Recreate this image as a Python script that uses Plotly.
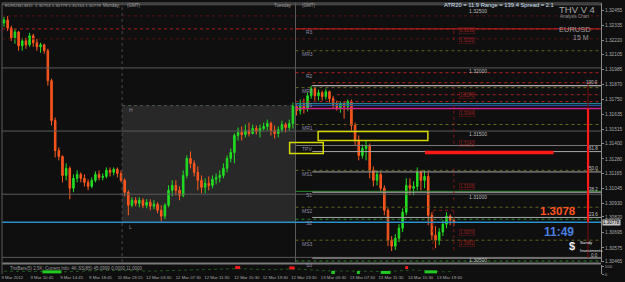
import plotly.graph_objects as go

# ---------------- data ----------------
opens = [1.32356,1.32380,1.32317,1.32238,1.32285,1.32175,1.32214,1.32183,1.32254,1.32199,
         1.32167,1.32183,1.32136,1.31899,1.31583,1.31346,1.31299,1.31149,1.31205,1.31047,
         1.31126,1.31157,1.31126,1.31094,1.31062,1.31110,1.31157,1.31133,1.31141,1.31189,
         1.31173,1.31197,1.31165,1.31110,1.31015,1.30913,1.30952,1.30928,1.30952,1.30913,
         1.30936,1.30905,1.30920,1.30873,1.30826,1.30913,1.31031,1.31070,1.31031,1.30991,
         1.31149,1.31283,1.31244,1.31173,1.31110,1.31055,1.31086,1.31070,1.31118,1.31133,
         1.31149,1.31205,1.31283,1.31331,1.31465,1.31489,1.31473,1.31504,1.31481,1.31520,
         1.31496,1.31520,1.31536,1.31560,1.31504,1.31481,1.31512,1.31552,1.31528,1.31560,
         1.31694,1.31662,1.31709,1.31678,1.31780,1.31836,1.31780,1.31804,1.31773,1.31812,
         1.31757,1.31709,1.31686,1.31717,1.31694,1.31733,1.31544,1.31425,1.31307,1.31362,
         1.31386,1.31189,1.31110,1.31157,1.31047,1.30873,1.30636,1.30589,1.30652,1.30731,
         1.30857,1.31070,1.31047,1.31062,1.31173,1.31110,1.31141,1.30834,1.30676,1.30636,
         1.30700,1.30763,1.30826,1.30794]
highs = [1.32404,1.32412,1.32333,1.32309,1.32293,1.32238,1.32238,1.32278,1.32270,1.32230,
         1.32199,1.32191,1.32151,1.31915,1.31607,1.31370,1.31307,1.31244,1.31220,1.31157,
         1.31189,1.31173,1.31157,1.31118,1.31133,1.31181,1.31189,1.31165,1.31212,1.31212,
         1.31212,1.31212,1.31189,1.31126,1.31031,1.30976,1.30976,1.30976,1.30968,1.30960,
         1.30960,1.30952,1.30936,1.30913,1.30928,1.31070,1.31110,1.31110,1.31062,1.31189,
         1.31307,1.31339,1.31268,1.31220,1.31149,1.31126,1.31141,1.31149,1.31165,1.31189,
         1.31244,1.31307,1.31362,1.31481,1.31528,1.31536,1.31552,1.31567,1.31552,1.31544,
         1.31552,1.31567,1.31591,1.31575,1.31544,1.31536,1.31583,1.31567,1.31591,1.31725,
         1.31717,1.31749,1.31757,1.31804,1.31859,1.31844,1.31828,1.31820,1.31836,1.31820,
         1.31780,1.31741,1.31733,1.31733,1.31749,1.31749,1.31567,1.31465,1.31394,1.31425,
         1.31402,1.31220,1.31189,1.31173,1.31070,1.30889,1.30668,1.30684,1.30763,1.30889,
         1.31126,1.31126,1.31102,1.31212,1.31189,1.31189,1.31173,1.30857,1.30747,1.30731,
         1.30794,1.30857,1.30842,1.30810]
lows = [1.32325,1.32293,1.32214,1.32191,1.32136,1.32136,1.32151,1.32167,1.32167,1.32136,
        1.32120,1.32112,1.31859,1.31544,1.31291,1.31268,1.31094,1.31110,1.30960,1.31015,
        1.31094,1.31094,1.31062,1.31031,1.31047,1.31094,1.31110,1.31110,1.31126,1.31141,
        1.31149,1.31133,1.31094,1.30984,1.30834,1.30897,1.30905,1.30897,1.30889,1.30889,
        1.30873,1.30881,1.30849,1.30786,1.30802,1.30897,1.30984,1.30991,1.30952,1.30976,
        1.31126,1.31205,1.31141,1.31031,1.31007,1.31007,1.31031,1.31047,1.31078,1.31094,
        1.31126,1.31173,1.31252,1.31244,1.31425,1.31425,1.31449,1.31457,1.31473,1.31473,
        1.31449,1.31504,1.31504,1.31465,1.31441,1.31449,1.31489,1.31489,1.31504,1.31520,
        1.31623,1.31631,1.31638,1.31654,1.31757,1.31741,1.31741,1.31741,1.31749,1.31725,
        1.31678,1.31662,1.31646,1.31599,1.31662,1.31504,1.31386,1.31268,1.31283,1.31268,
        1.31126,1.31062,1.31070,1.31015,1.30834,1.30589,1.30550,1.30558,1.30621,1.30700,
        1.30834,1.30991,1.30991,1.31031,1.31031,1.31047,1.30755,1.30636,1.30573,1.30597,
        1.30668,1.30731,1.30755,1.30747]
closes = [1.32380,1.32317,1.32238,1.32285,1.32175,1.32214,1.32183,1.32254,1.32199,1.32167,
          1.32183,1.32136,1.31899,1.31583,1.31346,1.31299,1.31149,1.31205,1.31047,1.31126,
          1.31157,1.31126,1.31094,1.31062,1.31110,1.31157,1.31133,1.31141,1.31189,1.31173,
          1.31197,1.31165,1.31110,1.31015,1.30913,1.30952,1.30928,1.30952,1.30913,1.30936,
          1.30905,1.30920,1.30873,1.30826,1.30913,1.31031,1.31070,1.31031,1.30991,1.31149,
          1.31283,1.31244,1.31173,1.31110,1.31055,1.31086,1.31070,1.31118,1.31133,1.31149,
          1.31205,1.31283,1.31331,1.31465,1.31489,1.31473,1.31504,1.31481,1.31520,1.31496,
          1.31520,1.31536,1.31560,1.31504,1.31481,1.31512,1.31552,1.31528,1.31560,1.31694,
          1.31662,1.31709,1.31678,1.31780,1.31836,1.31780,1.31804,1.31773,1.31812,1.31757,
          1.31709,1.31686,1.31717,1.31694,1.31733,1.31544,1.31425,1.31307,1.31362,1.31386,
          1.31189,1.31110,1.31157,1.31047,1.30873,1.30636,1.30589,1.30652,1.30731,1.30857,
          1.31070,1.31047,1.31062,1.31173,1.31110,1.31141,1.30834,1.30676,1.30636,1.30700,
          1.30763,1.30826,1.30794,1.30778]

time_labels = ["9 Mar 2012", "9 Mar 10:45", "9 Mar 14:45", "9 Mar 18:45", "11 Mar 23:15",
               "12 Mar 03:30", "12 Mar 07:30", "12 Mar 11:30", "12 Mar 15:30", "12 Mar 19:30",
               "12 Mar 23:30", "13 Mar 03:30", "13 Mar 07:30", "13 Mar 11:30", "13 Mar 15:30",
               "13 Mar 19:30"]
time_label_bar = [2.3, 10.4, 18.5, 26.4, 34.5, 42.3, 50.4, 58.2, 66.4, 74.2, 82.0, 90.1,
                  98.0, 105.8, 113.9, 121.8]

price_ticks = [1.32455, 1.32335, 1.32220, 1.32105, 1.31985, 1.31870, 1.31750, 1.31635, 1.31515,
               1.31400, 1.31280, 1.31165, 1.31045, 1.30930, 1.30820, 1.30695, 1.30575, 1.30465]

bid = 1.30778
monday_bar, tuesday_bar = 32.3, 79.7
monday_high, monday_low = 1.31702, 1.30771

round_levels = [1.32500, 1.32000, 1.31500, 1.31000, 1.30500]
prev_day_levels = [1.32412, 1.32309, 1.32230]

pivot_names = ["R3", "MR3", "R2", "MR2", "R1", "MR1", "TPV", "MS1", "S1", "MS2", "S2", "MS3", "S3"]
pivot_levels = [1.32309, 1.32136, 1.31962, 1.31844, 1.31733, 1.31552, 1.31386,
                1.31189, 1.31023, 1.30897, 1.30802, 1.30636, 1.30471]

band_levels = [1.31717, 1.31702, 1.31678]          # teal / blue / magenta
extra_red_levels = [1.31883, 1.31788]

fib_high, fib_low = 1.31859, 1.30494
fib_ratios = [100.0, 61.8, 50.0, 38.2, 23.6, 0.0]
fib_bar, fib_end_bar = 84.3, 159.7

zone_boxes = [(85.9, 115.9, 1.31425, 1.31496), (78.1, 87.3, 1.31323, 1.31410)]
target_bar_span, target_level = (115.1, 150.3), 1.31331

bracket_prices = [1.3230, 1.3222, 1.3178, 1.3164, 1.3140, 1.3106, 1.3070, 1.3061]

sig_start = [10.5, 63.2, 78.0, 89.5, 96.5, 103.0, 109.7, 115.0]
sig_end = [15.7, 64.6, 79.5, 90.5, 97.3, 105.7, 110.5, 118.4]
sig_level = [30, 90, 85, 22, 22, 22, 90, 30]
sig_up = [True, False, False, True, True, True, False, True]
osc_bar = [0, 8, 16, 24, 32, 40, 48, 56, 64, 72, 80, 88, 96, 104, 112, 120, 123]
osc_val = [40, 35, 30, 45, 50, 40, 55, 60, 75, 60, 70, 45, 40, 35, 55, 30, 35]

# ---------------- geometry ----------------
W, H = 625, 282
ML, MR, MT, MB = 2, 17, 2, 8
PW, PH = W - ML - MR, H - MT - MB
XMIN, XMAX = -0.54, 163.24
YMIN, YMAX = 1.30463, 1.32514
def px(x): return (x - ML) / PW
def py(y): return (H - MB - y) / PH
MAIN_BOTTOM = py(262)

FONT = "Liberation Sans, Arial, sans-serif"
bars = list(range(len(opens)))

fig = go.Figure()
fig.add_trace(go.Candlestick(
    x=bars, open=opens, high=highs, low=lows, close=closes,
    increasing=dict(line=dict(color="#22dd22", width=1), fillcolor="#22dd22"),
    decreasing=dict(line=dict(color="#ff5a1f", width=1), fillcolor="#ee4a18"),
    whiskerwidth=0, showlegend=False, hoverinfo="skip", xaxis="x", yaxis="y"))

fig.add_trace(go.Scatter(x=osc_bar, y=osc_val, mode="lines", xaxis="x", yaxis="y2",
                         line=dict(color="#1f5a1f", width=1, dash="dot"),
                         showlegend=False, hoverinfo="skip"))
for s, e, lv, up in zip(sig_start, sig_end, sig_level, sig_up):
    fig.add_trace(go.Scatter(x=[s, e], y=[lv, lv], mode="lines", xaxis="x", yaxis="y2",
                             line=dict(color="#22cc22" if up else "#ee1c1c", width=3),
                             showlegend=False, hoverinfo="skip"))

shapes = []
def hline(y, x0, x1, color, width=1, dash="solid", xref="x", layer="above"):
    shapes.append(dict(type="line", xref=xref, yref="y", x0=x0, x1=x1, y0=y, y1=y,
                       line=dict(color=color, width=width, dash=dash), layer=layer))
def vline(x, y0, y1, color, width=1, dash="solid", yref="y"):
    shapes.append(dict(type="line", xref="x", yref=yref, x0=x, x1=x, y0=y0, y1=y1,
                       line=dict(color=color, width=width, dash=dash)))

# Monday range box
shapes.append(dict(type="rect", xref="x", yref="y", x0=monday_bar, x1=tuesday_bar,
                   y0=monday_low, y1=monday_high, fillcolor="#282828",
                   line=dict(width=0), layer="below"))
hline(monday_high, monday_bar, tuesday_bar, "#4a5a4a", 1, "dot", layer="below")

# separators
vline(monday_bar, MAIN_BOTTOM, 1, "#4a4a4a", 1, "dot", yref="paper")
vline(tuesday_bar, MAIN_BOTTOM, 1, "#5c5c5c", 1, "solid", yref="paper")

for lv in round_levels:
    hline(lv, 0, 1, "#5a5a5a", 1, xref="paper")
hline(prev_day_levels[0], 0, 1, "#5a1414", 1, "dot", xref="paper")
hline(prev_day_levels[1], 0, 1, "#b01c1c", 1, "dot", xref="paper")
hline(prev_day_levels[2], 0, 1, "#5a1414", 1, "dot", xref="paper")

for name, lv in zip(pivot_names, pivot_levels):
    if name == "R3":
        st = ("#c82020", "solid")
    elif name.startswith("R"):
        st = ("#b82020", "dot")
    elif name.startswith("M"):
        st = ("#64641c", "dot")
    elif name == "TPV":
        st = ("#7a7a7a", "solid")
    else:
        st = ("#2a8a2a", "solid" if name == "S1" else "dot")
    hline(lv, tuesday_bar, XMAX, st[0], 1, st[1])

for lv, c, w in zip(band_levels, ["#1f8090", "#2a4fb0", "#d0208a"], [1.2, 1, 1.5]):
    hline(lv, tuesday_bar, XMAX, c, w)
hline(extra_red_levels[0], fib_bar, XMAX, "#b02020", 1, "dot")
hline(extra_red_levels[1], 91, XMAX, "#a02020", 1, "dot")

fib_levels = [fib_low + r / 100 * (fib_high - fib_low) for r in fib_ratios]
for r, lv in zip(fib_ratios, fib_levels):
    hline(lv, fib_bar, XMAX, "#d8d8d8" if r == 100 else "#a8a8a8", 1)

hline(bid, 0, 1, "#2a8fc8", 1.3, xref="paper")

# fib trend line
vline(fib_end_bar, fib_low, extra_red_levels[0], "#7a1010", 1)
vline(fib_end_bar, bid, band_levels[2], "#ff1a1a", 2.2)

# zone boxes & target bar
for x0, x1, y0, y1 in zone_boxes:
    shapes.append(dict(type="rect", xref="x", yref="y", x0=x0, x1=x1, y0=y0, y1=y1,
                       line=dict(color="#d8d800", width=1.5), fillcolor="rgba(0,0,0,0)"))
hline(target_level, target_bar_span[0], target_bar_span[1], "#ff1a1a", 3.5)

# projection brackets
br = "#801818"
vline(123, 1.32222, 1.32309, br, 1, "dot")
vline(123, 1.31400, 1.31883, br, 1, "dot")
vline(123, 1.30952, 1.31205, br, 1, "dot")
vline(123, 1.30557, 1.30873, br, 1, "dot")
vline(117.3, 1.30557, 1.30873, br, 1, "dot")
hline(1.30873, 117.3, 123, br, 1, "dot")

# frame pieces
shapes.append(dict(type="line", xref="paper", yref="paper", x0=0, x1=1, y0=py(263.5), y1=py(263.5),
                   line=dict(color="#7a7a7a", width=2)))
shapes.append(dict(type="line", xref="paper", yref="paper", x0=0, x1=1, y0=1, y1=1,
                   line=dict(color="#6a6a6a", width=1)))
shapes.append(dict(type="line", xref="paper", yref="paper", x0=0, x1=0, y0=0, y1=1,
                   line=dict(color="#5a5a5a", width=1)))

# ---------------- annotations ----------------
ann = []
def txt(x, y, s, size=5, color="#9a9a9a", xa="left", ya="middle", bold=False, **kw):
    ann.append(dict(x=px(x), y=py(y), xref="paper", yref="paper", text=("<b>%s</b>" % s) if bold else s,
                    showarrow=False, xanchor=xa, yanchor=ya,
                    font=dict(size=size, color=color, family=kw.pop("family", FONT)), **kw))

txt(3, 5, "EURUSD,M15  1.30754 1.30779 1.30744 1.30778", 4.3, "#a0a0a0")
txt(102, 5, "Monday,", 4.5, "#a0a0a0")
txt(126, 5, "(GMT)", 4.5, "#a0a0a0")
txt(275, 5, "Tuesday", 4.5, "#a0a0a0")
txt(303, 5, "(GMT)", 4.5, "#a0a0a0")
for lv in round_levels:
    ann.append(dict(x=129.5, y=lv, xref="x", yref="y", text="%.5f" % lv, showarrow=False,
                    xanchor="center", yanchor="middle", yshift=-6 if lv == round_levels[0] else -3,
                    font=dict(size=5, color="#bdbdbd", family=FONT)))
txt(505, 4, "ATR20 = 11.9 Range = 139.4 Spread = 2.1", 5.8, "#cfe0f5", xa="center")
txt(584, 8.5, "THV V 4", 9.5, "#a8a8a8", xa="center")
txt(582, 16, "Analysis Chart", 4.5, "#909090", xa="center")
txt(582, 28.5, "EURUSD", 7.5, "#9a9a9a", xa="center")
txt(598, 36.5, "15 M", 7, "#9a9a9a", xa="right")
txt(564, 211, "1.3078", 11.5, "#ff5522", xa="center", bold=True)
txt(566, 232, "11:49", 12, "#4a7fe0", xa="center", bold=True)
txt(579, 246, "$", 11, "#f0f0f0", xa="center", bold=True)
txt(585, 242.5, "Sandy", 4.3, "#e8e8e8")
txt(585, 250.5, "Investments", 4.2, "#e8e8e8")
txt(128, 109, "H", 5, "#8a8a8a")
txt(128, 227, "L", 5, "#8a8a8a")
txt(8, 268.5, "TrixBars(5) 2.5K: Current Info: 4K-SS(85) 45.0999 0.0000 11.0000", 4.5, "#9a9a9a")

for name, lv in zip(pivot_names, pivot_levels):
    ann.append(dict(x=px(303 if name[0] in "MT" else 308), y=lv, xref="paper", yref="y", text=name,
                    showarrow=False, xanchor="left", yanchor="middle", yshift=-3.5,
                    font=dict(size=5, color="#8c8aa8", family=FONT)))
for r, lv in zip(fib_ratios, fib_levels):
    ann.append(dict(x=px(606.5), y=lv, xref="paper", yref="y", text="%.1f" % r, showarrow=False,
                    xanchor="right", yanchor="middle", yshift=3,
                    font=dict(size=4.5, color="#c0c0c0", family=FONT)))
for bp in bracket_prices:
    ann.append(dict(x=124.5, y=bp, xref="x", yref="y", text="%.4f" % bp, showarrow=False,
                    xanchor="left", yanchor="middle", bordercolor="#701818", borderwidth=0.5,
                    borderpad=0.5, font=dict(size=4.5, color="#a02020", family=FONT)))
ann.append(dict(x=1, y=bid, xref="paper", yref="y", text="%.5f" % bid, showarrow=False,
                xanchor="left", yanchor="middle", xshift=1, bgcolor="#c4c4c4", borderpad=0,
                font=dict(size=4.5, color="#000000", family=FONT)))

fig.update_layout(
    width=W, height=H, margin=dict(l=ML, r=MR, t=MT, b=MB),
    paper_bgcolor="#0f0f0f", plot_bgcolor="#0f0f0f",
    showlegend=False, boxgap=0.4, hovermode=False,
    shapes=shapes, annotations=ann,
    xaxis=dict(range=[XMIN, XMAX], anchor="y2", domain=[0, 1], showgrid=False, zeroline=False,
               tickvals=time_label_bar, ticktext=time_labels, ticks="", showline=False,
               tickangle=0, ticklabeloverflow="allow",
               tickfont=dict(size=4.3, color="#a8a8a8", family=FONT),
               rangeslider=dict(visible=False), fixedrange=True),
    yaxis=dict(domain=[MAIN_BOTTOM, 1], range=[YMIN, YMAX], side="right", anchor="x",
               tickvals=price_ticks, ticktext=["%.5f" % v for v in price_ticks],
               tickfont=dict(size=4.8, color="#a8a8a8", family=FONT),
               showgrid=False, zeroline=False, showline=True, linecolor="#8a8a8a",
               ticks="outside", ticklen=2, tickcolor="#8a8a8a", fixedrange=True),
    yaxis2=dict(domain=[0, py(265)], range=[0, 125], side="right", anchor="x",
                tickvals=[0, 100], ticktext=["0", "100"],
                tickfont=dict(size=4.3, color="#a8a8a8", family=FONT),
                showgrid=False, zeroline=False, showline=True, linecolor="#8a8a8a",
                ticks="outside", ticklen=2, tickcolor="#8a8a8a", fixedrange=True),
)

fig.write_html("out.html")
